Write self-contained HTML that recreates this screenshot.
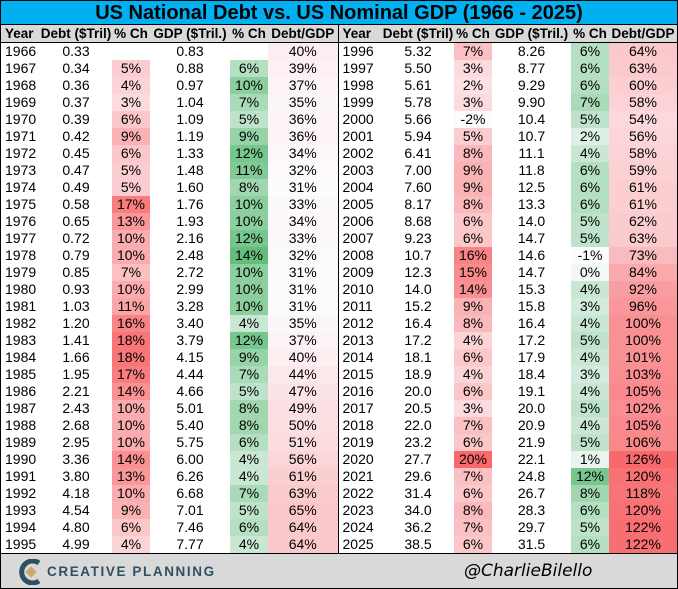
<!DOCTYPE html>
<html><head><meta charset="utf-8">
<style>
*{margin:0;padding:0;box-sizing:border-box}
body{width:678px;height:589px;background:#fff;font-family:"Liberation Sans",Arial,sans-serif;position:relative;overflow:hidden}
#frame{position:absolute;left:0;top:0;width:678px;height:589px;border:1px solid #000}
#title{position:absolute;left:1px;top:1px;width:676px;height:24px;background:#00B0F0;text-align:center;font-weight:bold;font-size:20px;line-height:24px;color:#000;border-bottom:1px solid #000}
table{position:absolute;left:1px;top:25px;border-collapse:collapse;table-layout:fixed;width:676px}
td,th{height:17px;font-size:14px;line-height:17px;text-align:center;white-space:nowrap;overflow:hidden;padding:0}
th{background:#D9D9D9;font-weight:bold;font-size:13.5px;border-bottom:1px solid #000}
td.y,th.y{text-align:left;padding-left:4px}
.sep{border-left:1px solid #000}
#footer{position:absolute;left:1px;top:553px;width:676px;height:35px;background:#D9D9D9;border-top:1px solid #000}
#cp{position:absolute;left:46px;top:10px;font-weight:bold;font-size:13.5px;letter-spacing:1.6px;color:#2f5063}
#logo{position:absolute;left:18px;top:5px}
#handle{position:absolute;left:463px;top:7px;font-style:italic;font-size:17px;color:#000;font-family:"DejaVu Sans","Liberation Sans",sans-serif}
</style></head><body>
<div id="frame"></div>
<div id="title">US National Debt vs. US Nominal GDP (1966 - 2025)</div>
<table id="t">
<colgroup><col style="width:39px"><col style="width:72px"><col style="width:38px"><col style="width:80px"><col style="width:38px"><col style="width:70px"><col style="width:44px"><col style="width:72px"><col style="width:38px"><col style="width:79px"><col style="width:38px"><col style="width:68px"></colgroup>
<tr><th class="y">Year</th><th>Debt ($Tril)</th><th>% Ch</th><th>GDP ($Tril.)</th><th>% Ch</th><th>Debt/GDP</th><th class="y sep">Year</th><th>Debt ($Tril)</th><th>% Ch</th><th>GDP ($Tril.)</th><th>% Ch</th><th>Debt/GDP</th></tr>
<tr><td class="y">1966</td><td>0.33</td><td class="d"></td><td>0.83</td><td class="g"></td><td class="r">40%</td><td class="y sep">1996</td><td>5.32</td><td class="d">7%</td><td>8.26</td><td class="g">6%</td><td class="r">64%</td></tr>
<tr><td class="y">1967</td><td>0.34</td><td class="d">5%</td><td>0.88</td><td class="g">6%</td><td class="r">39%</td><td class="y sep">1997</td><td>5.50</td><td class="d">3%</td><td>8.77</td><td class="g">6%</td><td class="r">63%</td></tr>
<tr><td class="y">1968</td><td>0.36</td><td class="d">4%</td><td>0.97</td><td class="g">10%</td><td class="r">37%</td><td class="y sep">1998</td><td>5.61</td><td class="d">2%</td><td>9.29</td><td class="g">6%</td><td class="r">60%</td></tr>
<tr><td class="y">1969</td><td>0.37</td><td class="d">3%</td><td>1.04</td><td class="g">7%</td><td class="r">35%</td><td class="y sep">1999</td><td>5.78</td><td class="d">3%</td><td>9.90</td><td class="g">7%</td><td class="r">58%</td></tr>
<tr><td class="y">1970</td><td>0.39</td><td class="d">6%</td><td>1.09</td><td class="g">5%</td><td class="r">36%</td><td class="y sep">2000</td><td>5.66</td><td class="d">-2%</td><td>10.4</td><td class="g">5%</td><td class="r">54%</td></tr>
<tr><td class="y">1971</td><td>0.42</td><td class="d">9%</td><td>1.19</td><td class="g">9%</td><td class="r">36%</td><td class="y sep">2001</td><td>5.94</td><td class="d">5%</td><td>10.7</td><td class="g">2%</td><td class="r">56%</td></tr>
<tr><td class="y">1972</td><td>0.45</td><td class="d">6%</td><td>1.33</td><td class="g">12%</td><td class="r">34%</td><td class="y sep">2002</td><td>6.41</td><td class="d">8%</td><td>11.1</td><td class="g">4%</td><td class="r">58%</td></tr>
<tr><td class="y">1973</td><td>0.47</td><td class="d">5%</td><td>1.48</td><td class="g">11%</td><td class="r">32%</td><td class="y sep">2003</td><td>7.00</td><td class="d">9%</td><td>11.8</td><td class="g">6%</td><td class="r">59%</td></tr>
<tr><td class="y">1974</td><td>0.49</td><td class="d">5%</td><td>1.60</td><td class="g">8%</td><td class="r">31%</td><td class="y sep">2004</td><td>7.60</td><td class="d">9%</td><td>12.5</td><td class="g">6%</td><td class="r">61%</td></tr>
<tr><td class="y">1975</td><td>0.58</td><td class="d">17%</td><td>1.76</td><td class="g">10%</td><td class="r">33%</td><td class="y sep">2005</td><td>8.17</td><td class="d">8%</td><td>13.3</td><td class="g">6%</td><td class="r">61%</td></tr>
<tr><td class="y">1976</td><td>0.65</td><td class="d">13%</td><td>1.93</td><td class="g">10%</td><td class="r">34%</td><td class="y sep">2006</td><td>8.68</td><td class="d">6%</td><td>14.0</td><td class="g">5%</td><td class="r">62%</td></tr>
<tr><td class="y">1977</td><td>0.72</td><td class="d">10%</td><td>2.16</td><td class="g">12%</td><td class="r">33%</td><td class="y sep">2007</td><td>9.23</td><td class="d">6%</td><td>14.7</td><td class="g">5%</td><td class="r">63%</td></tr>
<tr><td class="y">1978</td><td>0.79</td><td class="d">10%</td><td>2.48</td><td class="g">14%</td><td class="r">32%</td><td class="y sep">2008</td><td>10.7</td><td class="d">16%</td><td>14.6</td><td class="g">-1%</td><td class="r">73%</td></tr>
<tr><td class="y">1979</td><td>0.85</td><td class="d">7%</td><td>2.72</td><td class="g">10%</td><td class="r">31%</td><td class="y sep">2009</td><td>12.3</td><td class="d">15%</td><td>14.7</td><td class="g">0%</td><td class="r">84%</td></tr>
<tr><td class="y">1980</td><td>0.93</td><td class="d">10%</td><td>2.99</td><td class="g">10%</td><td class="r">31%</td><td class="y sep">2010</td><td>14.0</td><td class="d">14%</td><td>15.3</td><td class="g">4%</td><td class="r">92%</td></tr>
<tr><td class="y">1981</td><td>1.03</td><td class="d">11%</td><td>3.28</td><td class="g">10%</td><td class="r">31%</td><td class="y sep">2011</td><td>15.2</td><td class="d">9%</td><td>15.8</td><td class="g">3%</td><td class="r">96%</td></tr>
<tr><td class="y">1982</td><td>1.20</td><td class="d">16%</td><td>3.40</td><td class="g">4%</td><td class="r">35%</td><td class="y sep">2012</td><td>16.4</td><td class="d">8%</td><td>16.4</td><td class="g">4%</td><td class="r">100%</td></tr>
<tr><td class="y">1983</td><td>1.41</td><td class="d">18%</td><td>3.79</td><td class="g">12%</td><td class="r">37%</td><td class="y sep">2013</td><td>17.2</td><td class="d">4%</td><td>17.2</td><td class="g">5%</td><td class="r">100%</td></tr>
<tr><td class="y">1984</td><td>1.66</td><td class="d">18%</td><td>4.15</td><td class="g">9%</td><td class="r">40%</td><td class="y sep">2014</td><td>18.1</td><td class="d">6%</td><td>17.9</td><td class="g">4%</td><td class="r">101%</td></tr>
<tr><td class="y">1985</td><td>1.95</td><td class="d">17%</td><td>4.44</td><td class="g">7%</td><td class="r">44%</td><td class="y sep">2015</td><td>18.9</td><td class="d">4%</td><td>18.4</td><td class="g">3%</td><td class="r">103%</td></tr>
<tr><td class="y">1986</td><td>2.21</td><td class="d">14%</td><td>4.66</td><td class="g">5%</td><td class="r">47%</td><td class="y sep">2016</td><td>20.0</td><td class="d">6%</td><td>19.1</td><td class="g">4%</td><td class="r">105%</td></tr>
<tr><td class="y">1987</td><td>2.43</td><td class="d">10%</td><td>5.01</td><td class="g">8%</td><td class="r">49%</td><td class="y sep">2017</td><td>20.5</td><td class="d">3%</td><td>20.0</td><td class="g">5%</td><td class="r">102%</td></tr>
<tr><td class="y">1988</td><td>2.68</td><td class="d">10%</td><td>5.40</td><td class="g">8%</td><td class="r">50%</td><td class="y sep">2018</td><td>22.0</td><td class="d">7%</td><td>20.9</td><td class="g">4%</td><td class="r">105%</td></tr>
<tr><td class="y">1989</td><td>2.95</td><td class="d">10%</td><td>5.75</td><td class="g">6%</td><td class="r">51%</td><td class="y sep">2019</td><td>23.2</td><td class="d">6%</td><td>21.9</td><td class="g">5%</td><td class="r">106%</td></tr>
<tr><td class="y">1990</td><td>3.36</td><td class="d">14%</td><td>6.00</td><td class="g">4%</td><td class="r">56%</td><td class="y sep">2020</td><td>27.7</td><td class="d">20%</td><td>22.1</td><td class="g">1%</td><td class="r">126%</td></tr>
<tr><td class="y">1991</td><td>3.80</td><td class="d">13%</td><td>6.26</td><td class="g">4%</td><td class="r">61%</td><td class="y sep">2021</td><td>29.6</td><td class="d">7%</td><td>24.8</td><td class="g">12%</td><td class="r">120%</td></tr>
<tr><td class="y">1992</td><td>4.18</td><td class="d">10%</td><td>6.68</td><td class="g">7%</td><td class="r">63%</td><td class="y sep">2022</td><td>31.4</td><td class="d">6%</td><td>26.7</td><td class="g">8%</td><td class="r">118%</td></tr>
<tr><td class="y">1993</td><td>4.54</td><td class="d">9%</td><td>7.01</td><td class="g">5%</td><td class="r">65%</td><td class="y sep">2023</td><td>34.0</td><td class="d">8%</td><td>28.3</td><td class="g">6%</td><td class="r">120%</td></tr>
<tr><td class="y">1994</td><td>4.80</td><td class="d">6%</td><td>7.46</td><td class="g">6%</td><td class="r">64%</td><td class="y sep">2024</td><td>36.2</td><td class="d">7%</td><td>29.7</td><td class="g">5%</td><td class="r">122%</td></tr>
<tr><td class="y">1995</td><td>4.99</td><td class="d">4%</td><td>7.77</td><td class="g">4%</td><td class="r">64%</td><td class="y sep">2025</td><td>38.5</td><td class="d">6%</td><td>31.5</td><td class="g">6%</td><td class="r">122%</td></tr>
</table>
<div id="footer">
<svg id="logo" width="24" height="26" viewBox="0 0 24 26"><path d="M20 4 A11 11 0 1 0 20 22" fill="none" stroke="#2f5063" stroke-width="5"/><rect x="8" y="9" width="8" height="8" transform="rotate(45 12 13)" fill="#c9a96b"/></svg>
<div id="cp">CREATIVE PLANNING</div>
<div id="handle">@CharlieBilello</div>
</div>
<script>
function mix(c,t){var w=[252,252,255];return 'rgb('+w.map(function(v,i){return Math.round(v+(c[i]-v)*t)}).join(',')+')';}
function paint(cls,min,max,col){document.querySelectorAll('td.'+cls).forEach(function(td){var s=td.textContent.trim();if(!s){return;}var v=parseFloat(s);var t=Math.max(0,Math.min(1,(v-min)/(max-min)));td.style.background=mix(col,t);});}
paint('d',-2,20,[248,105,107]);
paint('g',-1,14,[99,190,123]);
paint('r',31,126,[248,105,107]);
document.querySelector('#t tr:nth-child(2) td.r').style.background=mix([248,105,107],0.1);
</script>
</body></html>
